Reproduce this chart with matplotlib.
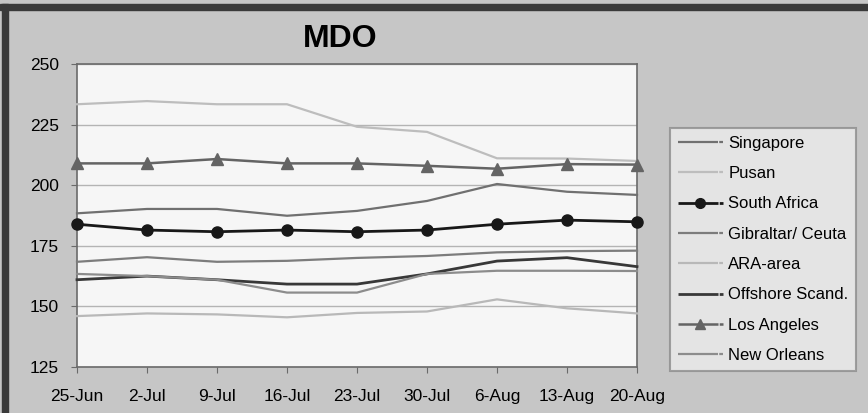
import matplotlib
matplotlib.use("Agg")
import matplotlib.pyplot as plt
from matplotlib.patches import Rectangle

plt.rcParams['font.family'] = ['Liberation Sans', 'DejaVu Sans']
plt.rcParams['lines.scale_dashes'] = False

# weekly MDO prices
weeks = ['25-Jun', '2-Jul', '9-Jul', '16-Jul', '23-Jul', '30-Jul', '6-Aug', '13-Aug', '20-Aug']

singapore = [188.4, 190.2, 190.2, 187.4, 189.4, 193.5, 200.5, 197.3, 196.0]
pusan = [233.4, 234.7, 233.4, 233.4, 224.1, 222.0, 211.1, 211.0, 210.0]
south_africa = [183.9, 181.5, 180.8, 181.5, 180.8, 181.5, 183.9, 185.6, 184.9]
gibraltar = [168.4, 170.3, 168.4, 168.8, 170.0, 170.8, 172.3, 172.8, 173.0]
ara = [146.0, 147.1, 146.7, 145.5, 147.3, 147.9, 152.9, 149.2, 147.1]
offshore = [161.0, 162.5, 161.0, 159.2, 159.2, 163.4, 168.7, 170.1, 166.4]
los_angeles = [209.0, 209.0, 210.8, 209.0, 209.0, 208.0, 206.8, 208.7, 208.5]
new_orleans = [163.4, 162.5, 161.0, 155.7, 155.7, 163.4, 164.7, 164.7, 164.6]

series = [
    ('Singapore', singapore, '#707070', 1.6, None),
    ('Pusan', pusan, '#bdbdbd', 1.6, None),
    ('South Africa', south_africa, '#181818', 2.0, 'o'),
    ('Gibraltar/ Ceuta', gibraltar, '#7c7c7c', 1.6, None),
    ('ARA-area', ara, '#b8b8b8', 1.6, None),
    ('Offshore Scand.', offshore, '#383838', 2.0, None),
    ('Los Angeles', los_angeles, '#646464', 1.8, '^'),
    ('New Orleans', new_orleans, '#8c8c8c', 1.6, None),
]

bg = '#c6c6c6'
fig = plt.figure(figsize=(8.68, 4.13), dpi=100, facecolor=bg)
ax = fig.add_axes([0.0887, 0.1114, 0.6452, 0.7336])
ax.set_facecolor('#f6f6f6')

x = list(range(len(weeks)))
for name, vals, color, lw, marker in series:
    ax.plot(x, vals, color=color, lw=lw, marker=marker, markersize=8,
            markeredgecolor=color, label=name, clip_on=False, zorder=3)

ax.set_xlim(0, len(weeks) - 1)
ax.set_ylim(125, 250)
ax.set_yticks([125, 150, 175, 200, 225, 250])
ax.set_xticks(x)
ax.set_xticklabels(weeks)
ax.yaxis.grid(True, color='#b4b4b4', lw=1.0)
ax.set_axisbelow(True)
for s in ax.spines.values():
    s.set_color('#6a6a6a')
    s.set_linewidth(1.2)
ax.tick_params(axis='x', length=4, color='#6a6a6a', pad=12, labelsize=12.5)
ax.tick_params(axis='y', length=4, color='#6a6a6a', pad=9, labelsize=12.5)

fig.text(0.392, 0.906, 'MDO', fontsize=23, fontweight='bold', ha='center', va='center')

leg = ax.legend(loc='upper left', bbox_to_anchor=(1.059, 0.788), frameon=True,
                fancybox=False, fontsize=12, handlelength=2.7, handletextpad=0.35,
                labelspacing=0.92, borderpad=0.45, borderaxespad=0)
leg.get_frame().set_facecolor('#ececec')
leg.get_frame().set_edgecolor('#8c8c8c')
leg.get_frame().set_linewidth(1.5)
# long sample line followed by a short tick, as in the legend keys
for line in leg.get_lines():
    line.set_dashes([28.8, 0.9, 2.7, 40])
    line.set_markersize(7)

# dark frame along the top and left edges
fig.patches.append(Rectangle((0, 1 - 9.5 / 413), 1, 5.5 / 413, transform=fig.transFigure,
                             color='#3a3a3a', zorder=0))
fig.patches.append(Rectangle((2 / 868, 0), 5.5 / 868, 1 - 4 / 413, transform=fig.transFigure,
                             color='#3a3a3a', zorder=0))

fig.savefig('out.png', dpi=100, facecolor=bg)
